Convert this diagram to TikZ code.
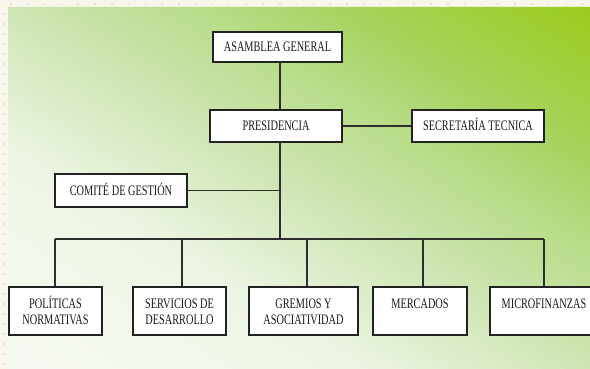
\documentclass[tikz,border=0pt]{standalone}
\usepackage{fontspec}
\setmainfont{Liberation Serif}[FakeStretch=0.71]
\definecolor{cream}{HTML}{F8F6EA}
\definecolor{dotc}{HTML}{E2DEE2}
\definecolor{g0}{HTML}{F7FAF3}
\definecolor{g1}{HTML}{EDF5E4}
\definecolor{g2}{HTML}{CFE5B4}
\definecolor{g3}{HTML}{B8DC88}
\definecolor{g4}{HTML}{A8D360}
\definecolor{g5}{HTML}{9BCB1C}
\definecolor{boxline}{HTML}{222222}
\definecolor{wirec}{HTML}{2E2E2E}
\definecolor{txt}{HTML}{1A1A1A}
\tikzset{
  box/.style={draw=boxline, line width=1.1pt, fill=white, inner sep=0pt, text=txt,
              font=\fontsize{14.5}{16}\selectfont},
  onebox/.style={box, text height=10pt, text depth=0pt},
  wire/.style={draw=wirec, line width=1.3pt},
}
\begin{document}
\begin{tikzpicture}[x=1pt,y=-1pt]
\useasboundingbox (0,0) rectangle (590,369);
\begin{scope}
\clip (0,0) rectangle (590,369);
\fill[cream] (0,0) rectangle (590,369);
\foreach \i in {0,...,35} \fill[dotc] (11+16.8*\i-0.8,3.2) rectangle ++(1.6,1.6);
\foreach \j in {1,...,36} \fill[dotc] (3.2,4+10*\j-0.8) rectangle ++(1.6,1.6);
% diagonal gradient: bottom-left pale to top-right green
\begin{scope}[shift={(8,369)}, xscale=582, yscale=-362]
\clip (0,0) rectangle (1,1);
\foreach \ta/\tb/\ca/\cb in {0/0.3/g0/g1, 0.3/0.5/g1/g2, 0.5/0.665/g2/g3, 0.665/0.78/g3/g4, 0.78/1.0/g4/g5}{
  \foreach \k in {0,...,19}{
    \pgfmathsetmacro{\a}{\ta+(\tb-\ta)*\k/20}
    \pgfmathsetmacro{\b}{\ta+(\tb-\ta)*(\k+1)/20+0.003}
    \pgfmathsetmacro{\p}{100*(\k+0.5)/20}
    \fill[\cb!\p!\ca] (2*\a,0) -- (2*\b,0) -- (2*\b-1,1) -- (2*\a-1,1) -- cycle;
  }
}
\end{scope}

% nodes
\node[onebox, minimum width=129pt, minimum height=30pt] (asam) at (277.5,47) {ASAMBLEA GENERAL};
\node[onebox, minimum width=132pt, minimum height=32pt] (pres) at (276,126) {PRESIDENCIA};
\node[onebox, minimum width=132pt, minimum height=32pt] (sec) at (478,126) {SECRETARÍA TECNICA};
\node[onebox, minimum width=132pt, minimum height=33pt] (com) at (121,190.5) {COMITÉ DE GESTIÓN};

\node[box] (pol) at (55.5,311) {\parbox[c][48pt][t]{93pt}{\centering\rule{0pt}{21pt}POLÍTICAS\\NORMATIVAS}};
\node[box] (ser) at (179.5,311) {\parbox[c][48pt][t]{93pt}{\centering\rule{0pt}{21pt}SERVICIOS DE\\DESARROLLO}};
\node[box] (gre) at (303.5,311) {\parbox[c][48pt][t]{109pt}{\centering\rule{0pt}{21pt}GREMIOS Y\\ASOCIATIVIDAD}};
\node[box] (mer) at (420,311) {\parbox[c][48pt][t]{94pt}{\centering\rule{0pt}{21pt}MERCADOS}};
\node[box] (mic) at (544,311) {\parbox[c][48pt][t]{108pt}{\centering\rule{0pt}{21pt}MICROFINANZAS}};

% connectors
\coordinate (bus) at (280,239);
\coordinate (b1) at (55,239);
\coordinate (b2) at (182,239);
\coordinate (b3) at (307,239);
\coordinate (b4) at (423,239);
\coordinate (b5) at (544,239);
\draw[wire] (asam.south -| bus) -- (pres.north -| bus);
\draw[wire] (pres.south -| bus) -- (bus);
\draw[wire] (pres.east) -- (sec.west);
\draw[wire] (com.east) -- (com.east -| bus);
\draw[wire] (b1) -- (b5);
\draw[wire] (b1) -- (b1 |- pol.north);
\draw[wire] (b2) -- (b2 |- ser.north);
\draw[wire] (b3) -- (b3 |- gre.north);
\draw[wire] (b4) -- (b4 |- mer.north);
\draw[wire] (b5) -- (b5 |- mic.north);
\end{scope}
\end{tikzpicture}
\end{document}
